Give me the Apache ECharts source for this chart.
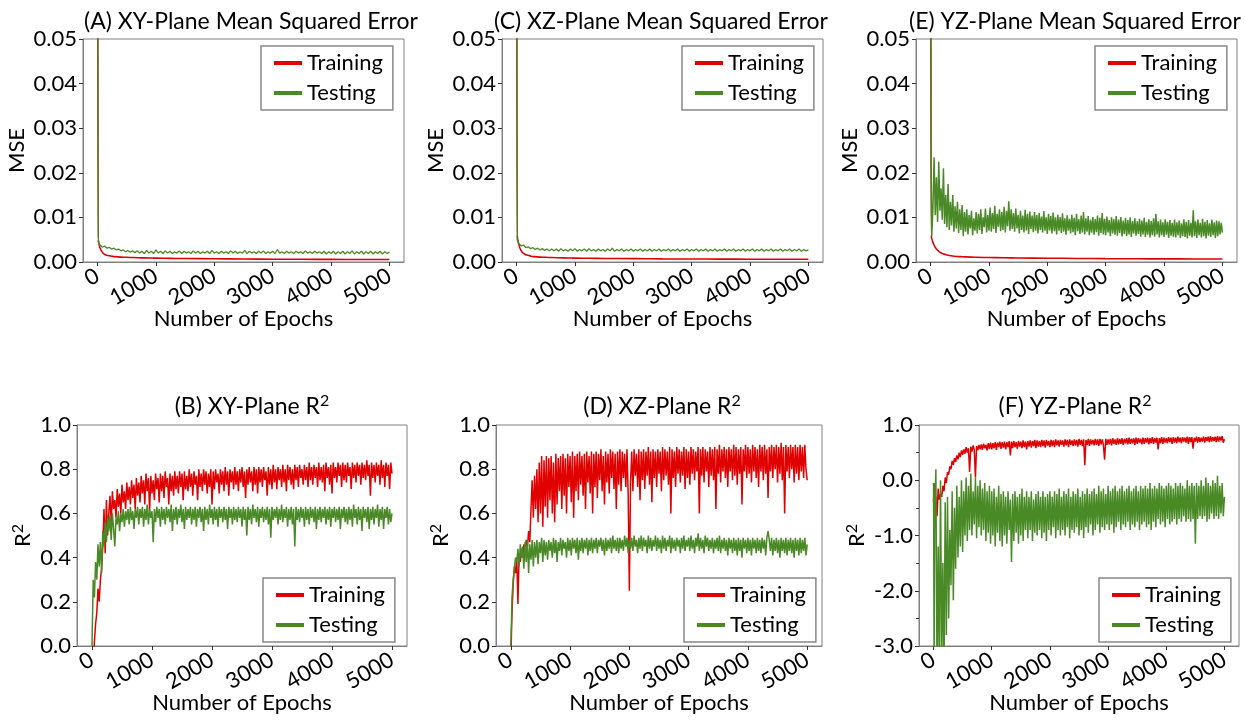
<!DOCTYPE html>
<html><head><meta charset="utf-8">
<script src="https://cdn.jsdelivr.net/npm/echarts@6/dist/echarts.min.js"></script>
<style>html,body{margin:0;padding:0;background:#fff}#c{width:1245px;height:720px}</style>
</head><body><div id="c"></div>
<script>
// ---------- DATA ----------
// thin-band series sampled at 0,10,20,30 then every 40 epochs
const epochs = [0, 10, 20, 30];
for (let e = 40; e <= 5000; e += 40) epochs.push(e);
// wide-band series sampled at 0,10 then every 20 epochs
const epochsDense = [0, 10];
for (let e = 20; e <= 5000; e += 20) epochsDense.push(e);
// smooth training-MSE curves sampled at
const epochsSmooth = [0,10,20,30,40,60,80,100,120,160,200,250,300,400,500,600,800,1000,1250,1500,2000,2500,3000,3500,4000,4500,5000];

const xTicks = [0, 1000, 2000, 3000, 4000, 5000];
const seriesNames = ['Training', 'Testing'];
const titles = ['(A) XY-Plane Mean Squared Error', '(C) XZ-Plane Mean Squared Error', '(E) YZ-Plane Mean Squared Error',
                '(B) XY-Plane R{sup|2}', '(D) XZ-Plane R{sup|2}', '(F) YZ-Plane R{sup|2}'];

// (A) XY MSE
const xyMseTrain = [0.09,0.0050,0.0042,0.0036,0.0032,0.0026,0.0022,0.0019,0.0017,0.0015,0.0014,0.0013,0.0012,0.0011,0.00105,0.0010,0.00092,0.00087,0.00082,0.00078,0.00072,0.00067,0.00063,0.0006,0.00058,0.00056,0.00055];
const xyMseTest = [0.09,0.0055,0.0045,0.0040,0.0037,0.0033,0.0036,0.0031,0.0033,0.0029,0.0031,0.0027,0.0029,0.0025,0.0027,0.0023,0.0026,0.0022,0.0025,
 0.0021,0.0025,0.0020,0.0024,0.0019,0.0026,0.0020,0.0024,0.0019,0.0027,
 0.0020,0.0024,0.0019,0.0025,0.0020,0.0024,0.0019,0.0023,0.0020,0.0025,
 0.0019,0.0024,0.0020,0.0023,0.0019,0.0025,0.0020,0.0024,0.0019,0.0023,
 0.0020,0.0024,0.0019,0.0026,0.0020,0.0023,0.0019,0.0024,0.0020,0.0023,
 0.0019,0.0025,0.0020,0.0024,0.0019,0.0023,0.0020,0.0026,0.0019,0.0024,
 0.0020,0.0023,0.0019,0.0024,0.0020,0.0025,0.0019,0.0023,0.0020,0.0024,
 0.0019,0.0028,0.0020,0.0023,0.0019,0.0024,0.0020,0.0023,0.0019,0.0024,
 0.0020,0.0023,0.0019,0.0025,0.0020,0.0023,0.0019,0.0024,0.0020,0.0023,
 0.0019,0.0024,0.0018,0.0023,0.0019,0.0024,0.0018,0.0023,0.0019,0.0024,
 0.0018,0.0023,0.0019,0.0025,0.0018,0.0023,0.0019,0.0024,0.0018,0.0023,
 0.0019,0.0024,0.0018,0.0023,0.0019,0.0024,0.0018,0.0023,0.0019,0.0022];

// (C) XZ MSE
const xzMseTrain = [0.09,0.0060,0.0052,0.0044,0.0038,0.0030,0.0025,0.0021,0.0019,0.0016,0.0015,0.0013,0.0012,0.0011,0.00105,0.0010,0.00093,0.00088,0.00083,0.0008,0.00075,0.0007,0.00067,0.00065,0.00063,0.00062,0.0006];
const xzMseTest = [0.09,0.0050,0.0046,0.0043,0.0040,0.0036,0.0038,0.0032,0.0034,0.0030,0.0032,0.0028,0.0031,0.0027,0.0030,0.0026,0.0029,0.0025,0.0029,
 0.0025,0.0029,0.0024,0.0030,0.0025,0.0028,0.0024,0.0029,0.0025,0.0030,
 0.0024,0.0028,0.0025,0.0029,0.0024,0.0030,0.0025,0.0028,0.0024,0.0029,
 0.0025,0.0028,0.0024,0.0029,0.0025,0.0031,0.0024,0.0028,0.0025,0.0029,
 0.0024,0.0028,0.0025,0.0029,0.0024,0.0028,0.0025,0.0029,0.0024,0.0028,
 0.0025,0.0029,0.0024,0.0028,0.0025,0.0029,0.0024,0.0028,0.0025,0.0029,
 0.0024,0.0028,0.0025,0.0029,0.0024,0.0028,0.0025,0.0029,0.0024,0.0028,
 0.0025,0.0029,0.0024,0.0028,0.0025,0.0029,0.0024,0.0028,0.0025,0.0029,
 0.0024,0.0028,0.0025,0.0029,0.0024,0.0028,0.0025,0.0029,0.0024,0.0028,
 0.0025,0.0029,0.0024,0.0028,0.0025,0.0029,0.0024,0.0028,0.0025,0.0029,
 0.0024,0.0028,0.0025,0.0029,0.0024,0.0028,0.0025,0.0029,0.0024,0.0028,
 0.0025,0.0029,0.0024,0.0028,0.0025,0.0029,0.0024,0.0028,0.0025,0.0027];

// (E) YZ MSE
const yzMseTrain = [0.09,0.0060,0.0052,0.0048,0.0044,0.0038,0.0033,0.0029,0.0026,0.0022,0.0019,0.0017,0.0015,0.0013,0.0012,0.00115,0.00105,0.001,0.00095,0.0009,0.00085,0.0008,0.00075,0.00072,0.0007,0.00068,0.00066];
const yzMseTest = [0.09,0.02,
 0.0058,0.012,0.0235,0.0105,0.019,0.009,0.0225,0.0115,0.0165,0.0095,
 0.021,0.0085,0.015,0.0078,0.0175,0.0072,0.0135,0.0082,0.015,0.0068,
 0.0125,0.0075,0.0135,0.0065,0.0118,0.0072,0.0128,0.0058,0.0112,0.0068,
 0.0118,0.0062,0.0105,0.0075,0.0115,0.0060,0.0098,0.0070,0.0112,0.0064,
 0.0108,0.0072,0.0118,0.0063,0.0100,0.0078,0.0120,0.0066,0.0105,0.0070,
 0.0122,0.0068,0.0110,0.0074,0.0126,0.0065,0.0108,0.0079,0.0118,0.0069,
 0.0112,0.0072,0.0124,0.0066,0.0115,0.0080,0.0136,0.0070,0.0118,0.0074,
 0.0110,0.0068,0.0120,0.0075,0.0106,0.0064,0.0115,0.0072,0.0104,0.0066,
 0.0117,0.0071,0.0108,0.0063,0.0113,0.0074,0.0104,0.0067,0.0112,0.0070,
 0.0105,0.0064,0.0110,0.0072,0.0102,0.0066,0.0114,0.0070,0.0100,0.0063,
 0.0108,0.0071,0.0103,0.0064,0.0111,0.0069,0.0100,0.0062,0.0106,0.0070,
 0.0101,0.0065,0.0109,0.0068,0.0098,0.0061,0.0105,0.0070,0.0097,0.0064,
 0.0106,0.0067,0.0099,0.0060,0.0108,0.0069,0.0096,0.0063,0.0104,0.0066,
 0.0112,0.0062,0.0098,0.0068,0.0103,0.0060,0.0095,0.0066,0.0101,0.0061,
 0.0096,0.0067,0.0104,0.0059,0.0099,0.0065,0.0110,0.0062,0.0097,0.0060,
 0.0102,0.0066,0.0094,0.0058,0.0100,0.0064,0.0096,0.0061,0.0103,0.0059,
 0.0095,0.0065,0.0101,0.0057,0.0093,0.0063,0.0099,0.0058,0.0094,0.0062,
 0.0100,0.0056,0.0092,0.0064,0.0098,0.0059,0.0091,0.0063,0.0097,0.0057,
 0.0093,0.0062,0.0099,0.0056,0.0090,0.0061,0.0096,0.0055,0.0092,0.0060,
 0.0098,0.0057,0.0108,0.0062,0.0091,0.0055,0.0095,0.0060,0.0089,0.0056,
 0.0096,0.0061,0.0090,0.0054,0.0094,0.0059,0.0088,0.0057,0.0095,0.0055,
 0.0089,0.0060,0.0093,0.0054,0.0087,0.0058,0.0096,0.0056,0.0090,0.0053,
 0.0094,0.0059,0.0088,0.0055,0.0116,0.0058,0.0091,0.0054,0.0095,0.0060,
 0.0088,0.0055,0.0097,0.0058,0.0090,0.0053,0.0094,0.0059,0.0087,0.0056,
 0.0095,0.0060,0.0089,0.0054,0.0093,0.0058,0.0091,0.0062,0.0088,0.0066];

// (B) XY R2
const xyR2Train = [-0.5,-0.3,
 -0.1,0.02,0.10,0.15,0.26,0.20,0.30,0.35,0.45,0.62,
 0.42,0.66,0.50,0.60,0.68,0.55,0.70,0.62,0.66,0.58,
 0.71,0.63,0.69,0.60,0.73,0.65,0.70,0.62,0.74,0.66,
 0.72,0.64,0.75,0.67,0.73,0.62,0.76,0.68,0.74,0.65,
 0.77,0.69,0.75,0.64,0.78,0.70,0.76,0.61,0.77,0.69,
 0.75,0.66,0.78,0.71,0.76,0.65,0.78,0.70,0.77,0.67,
 0.79,0.72,0.76,0.64,0.78,0.70,0.77,0.68,0.79,0.71,
 0.77,0.69,0.79,0.72,0.78,0.66,0.79,0.71,0.77,0.70,
 0.80,0.72,0.78,0.68,0.79,0.73,0.77,0.66,0.80,0.72,
 0.78,0.70,0.80,0.73,0.79,0.69,0.78,0.72,0.80,0.64,
 0.79,0.71,0.80,0.74,0.78,0.69,0.80,0.73,0.79,0.70,
 0.81,0.73,0.79,0.68,0.80,0.74,0.79,0.71,0.81,0.73,
 0.79,0.70,0.80,0.74,0.81,0.72,0.79,0.67,0.80,0.73,
 0.81,0.74,0.79,0.70,0.81,0.73,0.80,0.69,0.81,0.74,
 0.80,0.72,0.81,0.75,0.79,0.68,0.81,0.73,0.80,0.71,
 0.82,0.74,0.80,0.71,0.81,0.75,0.80,0.72,0.82,0.74,
 0.80,0.70,0.82,0.75,0.81,0.73,0.80,0.71,0.82,0.75,
 0.81,0.72,0.82,0.76,0.80,0.73,0.82,0.75,0.81,0.72,
 0.83,0.75,0.81,0.73,0.82,0.76,0.81,0.72,0.83,0.75,
 0.81,0.74,0.82,0.70,0.83,0.76,0.81,0.73,0.82,0.69,
 0.83,0.76,0.81,0.74,0.83,0.77,0.82,0.72,0.83,0.75,
 0.82,0.74,0.83,0.77,0.81,0.71,0.83,0.76,0.82,0.74,
 0.83,0.77,0.82,0.73,0.83,0.76,0.82,0.75,0.84,0.77,
 0.82,0.68,0.83,0.76,0.82,0.74,0.83,0.77,0.82,0.73,
 0.84,0.76,0.82,0.72,0.83,0.77,0.82,0.71,0.83,0.78];
const xyR2Test = [0.0,0.15,
 0.30,0.22,0.38,0.30,0.46,0.36,0.47,0.33,0.52,0.45,
 0.56,0.47,0.58,0.52,0.59,0.48,0.60,0.53,0.45,0.58,
 0.55,0.61,0.52,0.60,0.56,0.62,0.54,0.61,0.57,0.62,
 0.55,0.63,0.57,0.61,0.53,0.62,0.58,0.63,0.55,0.62,
 0.58,0.63,0.54,0.62,0.57,0.64,0.55,0.62,0.58,0.61,
 0.47,0.62,0.56,0.63,0.58,0.62,0.54,0.63,0.57,0.62,
 0.55,0.63,0.58,0.62,0.56,0.64,0.52,0.62,0.57,0.63,
 0.55,0.62,0.58,0.64,0.56,0.62,0.53,0.63,0.57,0.62,
 0.58,0.63,0.55,0.62,0.57,0.63,0.54,0.62,0.58,0.63,
 0.56,0.62,0.52,0.63,0.57,0.62,0.55,0.64,0.58,0.62,
 0.55,0.63,0.57,0.62,0.54,0.63,0.58,0.62,0.56,0.63,
 0.57,0.62,0.53,0.63,0.58,0.62,0.55,0.63,0.57,0.62,
 0.56,0.63,0.58,0.62,0.54,0.63,0.57,0.62,0.50,0.63,
 0.57,0.62,0.55,0.64,0.58,0.62,0.56,0.63,0.54,0.62,
 0.58,0.63,0.56,0.62,0.57,0.63,0.55,0.62,0.49,0.63,
 0.57,0.62,0.58,0.63,0.55,0.62,0.57,0.64,0.56,0.62,
 0.58,0.63,0.54,0.62,0.57,0.63,0.55,0.62,0.45,0.63,
 0.57,0.62,0.56,0.63,0.58,0.62,0.54,0.63,0.57,0.62,
 0.55,0.63,0.58,0.62,0.56,0.63,0.53,0.62,0.57,0.63,
 0.56,0.62,0.58,0.63,0.55,0.62,0.57,0.63,0.54,0.62,
 0.58,0.63,0.56,0.62,0.57,0.63,0.53,0.62,0.58,0.63,
 0.56,0.62,0.55,0.63,0.57,0.62,0.54,0.64,0.58,0.62,
 0.55,0.63,0.57,0.62,0.52,0.63,0.58,0.62,0.56,0.63,
 0.53,0.62,0.57,0.63,0.55,0.62,0.58,0.64,0.54,0.62,
 0.57,0.63,0.53,0.62,0.58,0.63,0.55,0.62,0.56,0.60];

// (D) XZ R2
const xzR2Train = [-0.1,0.05,
 0.15,0.28,0.36,0.33,0.40,0.19,0.42,0.38,0.44,0.40,
 0.46,0.42,0.48,0.45,0.52,0.47,0.62,0.75,0.58,0.77,
 0.62,0.80,0.56,0.83,0.60,0.86,0.54,0.84,0.63,0.86,
 0.58,0.85,0.66,0.86,0.60,0.83,0.56,0.87,0.64,0.85,
 0.70,0.86,0.62,0.87,0.68,0.85,0.60,0.87,0.72,0.86,
 0.65,0.88,0.58,0.86,0.70,0.87,0.66,0.88,0.73,0.86,
 0.68,0.87,0.62,0.88,0.74,0.86,0.69,0.88,0.60,0.87,
 0.72,0.88,0.67,0.87,0.75,0.89,0.70,0.86,0.64,0.88,
 0.74,0.87,0.69,0.89,0.76,0.88,0.71,0.87,0.62,0.88,
 0.73,0.89,0.70,0.88,0.76,0.87,0.72,0.89,0.68,0.25,
 0.74,0.88,0.70,0.89,0.77,0.87,0.72,0.89,0.66,0.88,
 0.75,0.89,0.71,0.88,0.77,0.90,0.73,0.88,0.65,0.89,
 0.76,0.88,0.72,0.89,0.78,0.88,0.70,0.90,0.75,0.89,
 0.77,0.88,0.73,0.90,0.60,0.89,0.76,0.88,0.72,0.90,
 0.78,0.89,0.74,0.88,0.77,0.90,0.71,0.89,0.76,0.88,
 0.73,0.90,0.78,0.89,0.75,0.88,0.79,0.90,0.60,0.89,
 0.77,0.90,0.74,0.89,0.79,0.88,0.72,0.90,0.77,0.89,
 0.75,0.90,0.62,0.89,0.78,0.91,0.74,0.89,0.79,0.90,
 0.76,0.89,0.72,0.90,0.79,0.89,0.75,0.91,0.77,0.90,
 0.73,0.89,0.78,0.90,0.64,0.89,0.79,0.91,0.76,0.90,
 0.78,0.89,0.74,0.91,0.79,0.90,0.76,0.89,0.72,0.91,
 0.79,0.90,0.75,0.91,0.78,0.89,0.67,0.90,0.79,0.91,
 0.76,0.90,0.80,0.91,0.74,0.90,0.78,0.92,0.75,0.90,
 0.60,0.91,0.79,0.90,0.76,0.91,0.80,0.90,0.74,0.91,
 0.78,0.90,0.75,0.91,0.79,0.90,0.76,0.91,0.80,0.75];
const xzR2Test = [0.0,0.10,
 0.22,0.30,0.35,0.40,0.38,0.44,0.36,0.46,0.40,0.45,
 0.35,0.47,0.38,0.48,0.33,0.46,0.39,0.48,0.36,0.47,
 0.40,0.48,0.37,0.47,0.42,0.49,0.38,0.48,0.41,0.47,
 0.39,0.48,0.43,0.47,0.40,0.49,0.42,0.48,0.38,0.47,
 0.43,0.49,0.41,0.48,0.44,0.47,0.40,0.49,0.43,0.48,
 0.41,0.49,0.44,0.48,0.42,0.49,0.39,0.48,0.43,0.49,
 0.42,0.48,0.44,0.49,0.41,0.48,0.43,0.49,0.42,0.48,
 0.44,0.49,0.42,0.48,0.45,0.49,0.43,0.48,0.41,0.49,
 0.43,0.48,0.44,0.49,0.42,0.50,0.44,0.48,0.43,0.49,
 0.42,0.49,0.44,0.48,0.43,0.50,0.45,0.49,0.42,0.48,
 0.44,0.49,0.43,0.50,0.45,0.48,0.42,0.49,0.44,0.50,
 0.43,0.49,0.45,0.48,0.42,0.50,0.44,0.49,0.43,0.48,
 0.45,0.50,0.43,0.49,0.44,0.48,0.42,0.50,0.44,0.49,
 0.43,0.48,0.45,0.50,0.42,0.49,0.44,0.48,0.43,0.49,
 0.45,0.48,0.42,0.49,0.44,0.50,0.43,0.48,0.45,0.49,
 0.43,0.50,0.44,0.48,0.42,0.49,0.45,0.51,0.43,0.49,
 0.44,0.48,0.42,0.50,0.45,0.49,0.43,0.48,0.44,0.49,
 0.42,0.48,0.44,0.49,0.43,0.50,0.42,0.48,0.44,0.49,
 0.43,0.48,0.41,0.49,0.44,0.48,0.42,0.49,0.43,0.48,
 0.41,0.49,0.43,0.48,0.40,0.49,0.44,0.48,0.42,0.49,
 0.43,0.48,0.41,0.49,0.44,0.48,0.42,0.49,0.43,0.48,
 0.42,0.49,0.44,0.48,0.41,0.49,0.52,0.48,0.43,0.49,
 0.41,0.48,0.43,0.49,0.42,0.48,0.40,0.49,0.43,0.48,
 0.42,0.49,0.41,0.48,0.43,0.49,0.42,0.48,0.40,0.49,
 0.43,0.48,0.41,0.49,0.42,0.48,0.43,0.49,0.41,0.46];

// (F) YZ R2
const yzR2Train = [-0.4,-0.05,
 -0.6,-0.3,-0.65,-0.15,-0.35,-0.25,-0.3,-0.1,-0.2,0.05,
 -0.05,0.15,0.1,0.25,0.2,0.35,0.28,0.4,0.33,0.45,
 0.38,0.50,0.42,0.54,0.46,0.56,0.48,0.60,0.50,0.58,
 0.15,0.61,0.52,0.63,0.55,0.05,0.62,0.54,0.64,0.56,
 0.65,0.55,0.66,0.58,0.64,0.54,0.67,0.57,0.68,0.56,
 0.67,0.58,0.69,0.55,0.68,0.60,0.70,0.57,0.69,0.59,
 0.70,0.56,0.69,0.60,0.71,0.45,0.70,0.58,0.71,0.60,
 0.69,0.57,0.71,0.61,0.70,0.58,0.72,0.60,0.70,0.56,
 0.71,0.61,0.72,0.59,0.71,0.62,0.73,0.58,0.72,0.61,
 0.71,0.60,0.73,0.62,0.72,0.59,0.73,0.63,0.71,0.60,
 0.73,0.62,0.72,0.60,0.74,0.63,0.72,0.61,0.73,0.64,
 0.72,0.61,0.74,0.63,0.73,0.60,0.74,0.64,0.72,0.62,
 0.74,0.63,0.73,0.61,0.75,0.64,0.73,0.62,0.74,0.27,
 0.73,0.64,0.75,0.62,0.74,0.65,0.73,0.63,0.75,0.64,
 0.74,0.62,0.75,0.65,0.74,0.63,0.37,0.75,0.64,0.74,
 0.65,0.75,0.63,0.76,0.66,0.74,0.64,0.76,0.65,0.75,
 0.66,0.76,0.64,0.75,0.67,0.76,0.65,0.77,0.66,0.75,
 0.67,0.76,0.64,0.77,0.66,0.76,0.68,0.75,0.65,0.77,
 0.66,0.76,0.68,0.77,0.65,0.76,0.67,0.78,0.66,0.76,
 0.68,0.77,0.56,0.76,0.67,0.78,0.66,0.77,0.68,0.76,
 0.67,0.78,0.69,0.77,0.66,0.78,0.68,0.77,0.67,0.79,
 0.69,0.77,0.67,0.78,0.70,0.77,0.68,0.79,0.66,0.78,
 0.69,0.78,0.57,0.77,0.70,0.79,0.68,0.78,0.69,0.77,
 0.70,0.79,0.68,0.78,0.71,0.79,0.69,0.80,0.70,0.78,
 0.71,0.79,0.69,0.80,0.70,0.79,0.72,0.80,0.68,0.74];
const yzR2Test = [-0.05,-3.5,
 -0.6,0.2,-3.5,-1.2,-3.5,0.0,-3.3,-1.5,-3.5,-0.4,
 -2.8,-0.3,-2.5,-0.9,-1.9,-0.2,-2.17,-0.5,-1.6,-0.1,
 -1.4,-0.3,-1.2,0.0,-1.3,-0.2,-1.0,0.05,-1.1,-0.1,
 -0.9,0.12,-1.0,-0.2,-0.8,0.05,-1.05,-0.1,-0.85,0.0,
 -1.0,-0.15,-0.9,-0.05,-1.1,-0.2,-0.95,-0.1,-1.15,-0.2,
 -1.0,-0.15,-1.2,-0.3,-0.95,-0.1,-1.1,-0.25,-1.2,-0.2,
 -1.0,-0.3,-1.15,-0.2,-0.9,-0.35,-1.48,-0.25,-1.1,-0.2,
 -0.95,-0.3,-1.15,-0.25,-1.0,-0.15,-1.1,-0.3,-0.9,-0.2,
 -1.05,-0.3,-0.9,-0.2,-1.1,-0.35,-0.95,-0.25,-1.0,-0.2,
 -0.9,-0.3,-1.05,-0.2,-0.95,-0.3,-1.1,-0.25,-0.9,-0.2,
 -1.0,-0.3,-0.85,-0.2,-1.05,-0.25,-0.9,-0.15,-1.0,-0.3,
 -0.9,-0.2,-1.0,-0.25,-0.85,-0.15,-1.05,-0.3,-0.9,-0.2,
 -0.95,-0.25,-0.85,-0.15,-1.0,-0.3,-0.9,-0.2,-1.05,-0.25,
 -0.85,-0.15,-0.95,-0.25,-0.8,-0.2,-1.0,-0.15,-0.9,-0.25,
 -0.8,-0.1,-0.95,-0.2,-0.85,-0.15,-0.9,-0.25,-0.8,-0.1,
 -0.9,-0.2,-0.8,-0.15,-0.95,-0.1,-0.85,-0.2,-0.75,-0.15,
 -0.9,-0.1,-0.8,-0.2,-0.85,-0.15,-0.75,-0.1,-0.9,-0.2,
 -0.8,-0.15,-0.85,-0.1,-0.75,-0.2,-0.9,-0.1,-0.8,-0.15,
 -0.75,-0.1,-0.85,-0.15,-0.8,-0.05,-0.9,-0.15,-0.75,-0.1,
 -0.85,-0.15,-0.7,-0.05,-0.8,-0.1,-0.75,-0.15,-0.85,-0.1,
 -0.7,-0.05,-0.8,-0.1,-0.75,-0.15,-0.7,-0.05,-0.8,-0.1,
 -0.7,-0.05,-0.75,-0.1,-0.65,-0.15,-0.75,0.0,-0.7,-0.1,
 -0.75,-0.05,-0.7,-0.1,-1.15,-0.05,-0.7,-0.1,-0.65,0.0,
 -0.7,-0.1,-0.65,0.05,-0.75,-0.05,-0.7,-0.1,-0.6,0.0,
 -0.7,-0.05,-0.65,0.08,-0.7,-0.1,-0.6,-0.05,-0.65,-0.3];

// ---------- LAYOUT / STYLE ----------
const RED = '#e00000', GREEN = '#4a8a26';
const FONT = 'Lato, "Open Sans", sans-serif';
const panels = [
  {grid:{left:83, top:39, width:321, height:223}, titleX:246, titleTop:3, yName:'MSE', nameGapY:51, y:[0,0.05,0.01], dec:2, minor:false,
   train:[epochsSmooth, xyMseTrain], test:[epochs, xyMseTest], legend:{left:261, top:46}, mse:true, testW:1.3},
  {grid:{left:502, top:39, width:321, height:223}, titleX:656, titleTop:3, yName:'MSE', nameGapY:50, y:[0,0.05,0.01], dec:2, minor:false,
   train:[epochsSmooth, xzMseTrain], test:[epochs, xzMseTest], legend:{left:682, top:46}, mse:true, testW:1.3},
  {grid:{left:916, top:39, width:321, height:223}, titleX:1070, titleTop:3, yName:'MSE', nameGapY:49, y:[0,0.05,0.01], dec:2, minor:false,
   train:[epochsSmooth, yzMseTrain], test:[epochsDense, yzMseTest], legend:{left:1095, top:46}, mse:true, testW:1.5},
  {grid:{left:77, top:425, width:330, height:221}, titleX:247, titleTop:388, yName:'R{sup|2}', nameGapY:41, y:[0,1,0.2], dec:1, minor:false,
   train:[epochsDense, xyR2Train], test:[epochsDense, xyR2Test], legend:{left:263, top:578}, mse:false, testW:1.5},
  {grid:{left:496, top:425, width:326, height:221}, titleX:657, titleTop:388, yName:'R{sup|2}', nameGapY:42, y:[0,1,0.2], dec:1, minor:false,
   train:[epochsDense, xzR2Train], test:[epochsDense, xzR2Test], legend:{left:684, top:578}, mse:false, testW:1.5},
  {grid:{left:919, top:425, width:320, height:221}, titleX:1070, titleTop:388, yName:'R{sup|2}', nameGapY:41, y:[-3,1,1], dec:1, minor:true,
   train:[epochsDense, yzR2Train], test:[epochsDense, yzR2Test], legend:{left:1099, top:578}, mse:false, testW:1.5},
];

const pairs = (xs, ys) => xs.map((x, i) => [x, ys[i]]);
const axisColor = '#808080';
const supRich = {sup: {fontFamily: FONT, fontSize: 16, lineHeight: 16, verticalAlign: 'top', color: '#000'}};
const option = {
  animation: false,
  backgroundColor: '#fff',
  textStyle: {fontFamily: FONT},
  title: [], grid: [], xAxis: [], yAxis: [], series: [], legend: []
};

panels.forEach((p, i) => {
  option.grid.push(Object.assign({show: true, borderColor: axisColor, borderWidth: 1, backgroundColor: 'transparent'}, p.grid));
  option.title.push({
    text: titles[i], left: p.titleX, top: p.titleTop, textAlign: 'center',
    textStyle: {fontFamily: FONT, fontSize: 23, lineHeight: 28, fontWeight: 'normal', color: '#000', rich: supRich}
  });
  option.xAxis.push({
    type: 'value', gridIndex: i, min: -250, max: 5250,
    name: 'Number of Epochs', nameLocation: 'middle', nameGap: 46, nameMoveOverlap: false,
    nameTextStyle: {fontFamily: FONT, fontSize: 22, color: '#000'},
    axisLine: {show: true, onZero: false, lineStyle: {color: axisColor}},
    axisTick: {show: true, length: 4, customValues: xTicks, lineStyle: {color: '#333'}},
    axisLabel: {customValues: xTicks, rotate: 30, margin: 12, fontFamily: FONT, fontSize: 22, color: '#000', formatter: v => String(v)},
    splitLine: {show: false}
  });
  option.yAxis.push({
    type: 'value', gridIndex: i, min: p.y[0], max: p.y[1], interval: p.y[2],
    name: p.yName, nameLocation: 'middle', nameGap: p.nameGapY,
    nameTextStyle: {fontFamily: FONT, fontSize: 22, lineHeight: 26, color: '#000', rich: supRich},
    axisLine: {show: true, onZero: false, lineStyle: {color: axisColor}},
    axisTick: {show: true, length: 4, lineStyle: {color: '#333'}},
    minorTick: {show: p.minor, splitNumber: 2, length: 3, lineStyle: {color: '#333'}},
    axisLabel: {margin: 6, fontFamily: FONT, fontSize: 22, color: '#000', formatter: v => v.toFixed(p.dec)},
    splitLine: {show: false}
  });
  option.series.push({
    type: 'line', name: seriesNames[0], xAxisIndex: i, yAxisIndex: i,
    data: pairs(p.train[0], p.train[1]), symbol: 'none', showSymbol: false, clip: true,
    smooth: p.mse ? 0.4 : false, smoothMonotone: 'x',
    lineStyle: {color: RED, width: p.mse ? 1.6 : 1.5}, itemStyle: {color: RED}, z: 2
  });
  option.series.push({
    type: 'line', name: seriesNames[1], xAxisIndex: i, yAxisIndex: i,
    data: pairs(p.test[0], p.test[1]), symbol: 'none', showSymbol: false, clip: true,
    lineStyle: {color: GREEN, width: p.testW}, itemStyle: {color: GREEN}, z: 3
  });
  option.legend.push({
    data: seriesNames, orient: 'vertical', left: p.legend.left, top: p.legend.top,
    icon: 'rect', itemWidth: 28, itemHeight: 4, itemGap: 4, itemTextGap: 6,
    padding: [4, 10, 4, 13], backgroundColor: '#fff', borderColor: '#888', borderWidth: 1.5, borderRadius: 0,
    textStyle: {fontFamily: FONT, fontSize: 22, lineHeight: 26, color: '#000'},
    selectedMode: false
  });
});

const chart = echarts.init(document.getElementById('c'), null, {renderer: 'canvas'});
chart.setOption(option);
</script></body></html>
